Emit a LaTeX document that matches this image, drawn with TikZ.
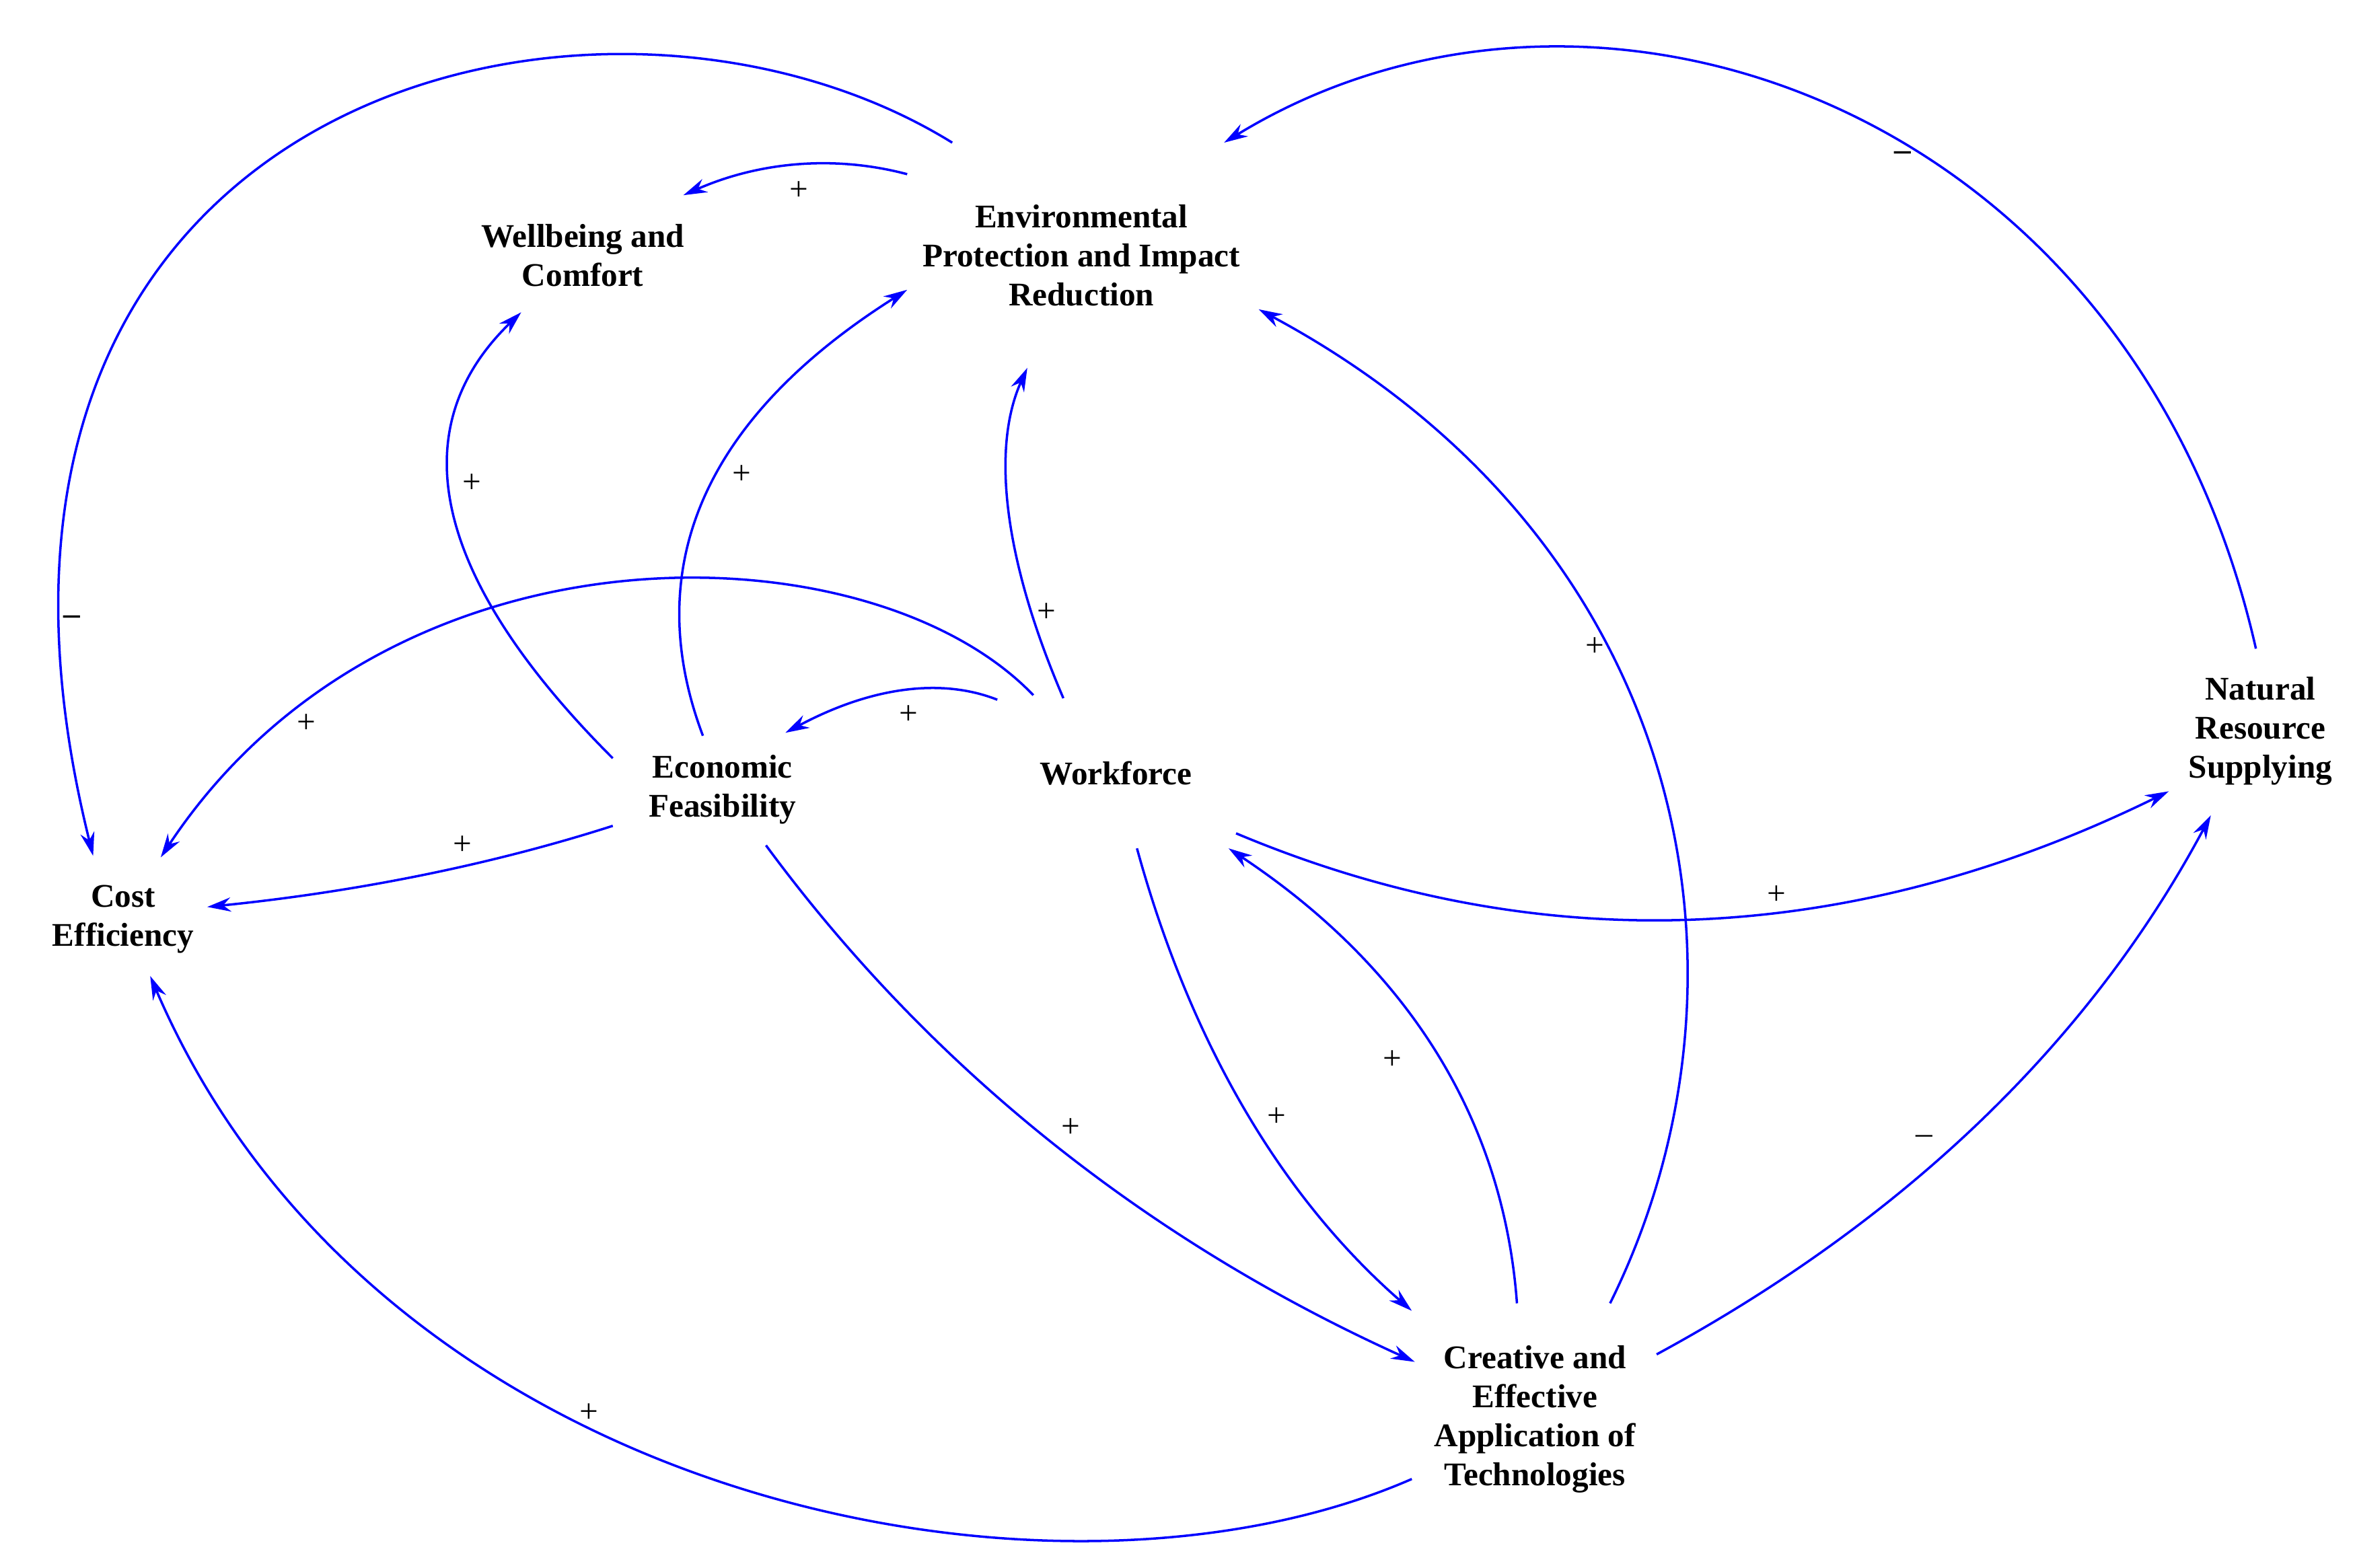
\documentclass[tikz,border=0pt]{standalone}
\usepackage{fontspec}
\setmainfont{Liberation Serif}
\usetikzlibrary{arrows.meta,calc}
\begin{document}
\begin{tikzpicture}[x=0.022321cm,y=-0.022321cm,
  box/.style={align=center,font=\fontsize{14}{16.5}\selectfont\bfseries},
  lnk/.style={draw=blue,line width=1pt,-{Stealth[length=10pt,width=6pt]}},
  sg/.style={font=\fontsize{14}{16}\selectfont}]
\useasboundingbox (0,0) rectangle (1568,1044);
\node[box] (env) at (720,170) {Environmental\\Protection and Impact\\Reduction};
\node[box] (well) at (388,170) {Wellbeing and\\Comfort};
\node[box] (cost) at (82,612) {Cost\\Efficiency};
\node[box] (econ) at (481,526) {Economic\\Feasibility};
\node[box] (work) at (743,515) {Workforce};
\node[box] (nat) at (1505,487) {Natural\\Resource\\Supplying};
\node[box] (cre) at (1022,945) {Creative and\\Effective\\Application of\\Technologies};

\draw[lnk] ($(env)+(-86,-75)$) .. controls (400,-50) and (-65,60) .. ($(cost)+(-20,-42)$);
\draw[lnk] ($(env)+(-116,-54)$) .. controls (555,103) and (505,108) .. ($(well)+(67,-40)$);
\draw[lnk] ($(nat)+(-3,-55)$) .. controls (1420,70) and (1060,-55) .. ($(env)+(95,-75)$);
\draw[lnk] ($(econ)+(-73,-21)$) .. controls (287,384) and (267,285) .. ($(well)+(-41,38)$);
\draw[lnk] ($(econ)+(-13,-36)$) .. controls (425,376) and (471,277) .. ($(env)+(-116,23)$);
\draw[lnk] ($(work)+(-35,-50)$) .. controls (668,372) and (660,298) .. ($(env)+(-36,75)$);
\draw[lnk] ($(work)+(-55,-52)$) .. controls (580,350) and (260,340) .. ($(cost)+(25,-41)$);
\draw[lnk] ($(work)+(-79,-49)$) .. controls (626,451) and (579,458) .. ($(econ)+(42,-38)$);
\draw[lnk] ($(econ)+(-73,24)$) .. controls (327,576) and (237,594) .. ($(cost)+(56,-8)$);
\draw[lnk] ($(cre)+(50,-77)$) .. controls (1180,650) and (1125,360) .. ($(env)+(118,36)$);
\draw[lnk] ($(work)+(80,40)$) .. controls (1025,640) and (1232,631) .. ($(nat)+(-61,40)$);
\draw[lnk] ($(econ)+(29,37)$) .. controls (619,711) and (763,826) .. ($(cre)+(-80,-38)$);
\draw[lnk] ($(work)+(14,50)$) .. controls (793,696) and (854,798) .. ($(cre)+(-82,-72)$);
\draw[lnk] ($(cre)+(-12,-77)$) .. controls (1001,745) and (937,644) .. ($(work)+(75,50)$);
\draw[lnk] ($(cre)+(81,-43)$) .. controls (1269,812) and (1392,693) .. ($(nat)+(-33,56)$);
\draw[lnk] ($(cre)+(-82,40)$) .. controls (700,1090) and (250,1000) .. ($(cost)+(18,38)$);

\node[sg] (s1) at (48,413) {\textbf{--}};
\node[sg] (s2) at (532,127) {+};
\node[sg] (s3) at (1267,104) {\textbf{--}};
\node[sg] (s4) at (314,322) {+};
\node[sg] (s5) at (494,316) {+};
\node[sg] (s6) at (697,408) {+};
\node[sg] (s7) at (204,482) {+};
\node[sg] (s8) at (605,476) {+};
\node[sg] (s9) at (308,563) {+};
\node[sg] (s10) at (1062,431) {+};
\node[sg] (s11) at (1183,596) {+};
\node[sg] (s12) at (713,751) {+};
\node[sg] (s13) at (850,744) {+};
\node[sg] (s14) at (927,706) {+};
\node[sg] (s15) at (1281,759) {--};
\node[sg] (s16) at (392,941) {+};
\end{tikzpicture}
\end{document}
